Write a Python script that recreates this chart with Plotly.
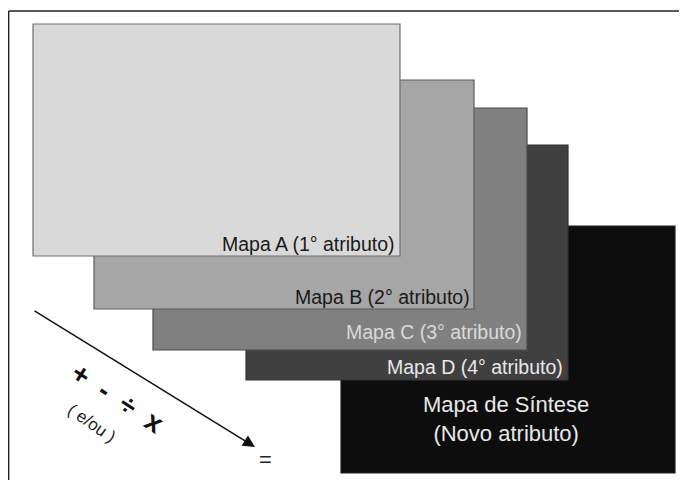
import plotly.graph_objects as go

# Layers of the overlay diagram (pixel-like coordinates in a 687x480 frame)
layer_names = ["Mapa A", "Mapa B", "Mapa C", "Mapa D", "Mapa de Síntese"]
layer_x0 = [33, 94, 153, 246, 341]
layer_x1 = [400, 474, 527, 568, 675]
layer_y0 = [24, 80, 108, 145, 226]
layer_y1 = [256, 309, 350, 380, 473]
layer_fill = ["#d9d9d9", "#a6a6a6", "#808080", "#404040", "#0d0d0d"]
layer_line = ["#6e6e6e", "#5a5a5a", "#4a4a4a", "#333333", "#222222"]

labels = ["Mapa A (1° atributo)", "Mapa B (2° atributo)",
          "Mapa C (3° atributo)", "Mapa D (4° atributo)"]
label_x = [397, 472, 524, 565]
label_y = [244, 297, 332, 367]
label_color = ["#1a1a1a", "#1a1a1a", "#dadada", "#e8e8e8"]

synth_text = "Mapa de Síntese<br>(Novo atributo)"

W, H = 687, 480
OFF = 8  # page body margin compensation
FW, FH = W - OFF, H - OFF
fig = go.Figure()
fig.add_trace(go.Scatter(x=[OFF, OFF + FW], y=[OFF, OFF + FH], mode="markers",
                         marker=dict(opacity=0), hoverinfo="skip", showlegend=False))

# outer frame: only top and left edges are visible in the reference
shapes = [dict(type="line", xref="x", yref="y", x0=8.6, y0=11, x1=W + 40, y1=11,
               line=dict(color="#222222", width=1.6), layer="below"),
          dict(type="line", xref="x", yref="y", x0=8.6, y0=11, x1=8.6, y1=H + 40,
               line=dict(color="#222222", width=1.6), layer="below")]
rects = []
for i in range(len(layer_names)):
    rects.append(dict(type="rect", xref="x", yref="y",
                      x0=layer_x0[i], x1=layer_x1[i], y0=layer_y0[i], y1=layer_y1[i],
                      fillcolor=layer_fill[i], line=dict(color=layer_line[i], width=1.2),
                      layer="below"))
# draw in reverse so that Mapa A is on top
shapes += rects[::-1]

font = "Liberation Sans, Arial, sans-serif"
annotations = []
for i, t in enumerate(labels):
    annotations.append(dict(x=label_x[i], y=label_y[i], xref="x", yref="y", text=t,
                            showarrow=False, xanchor="right", yanchor="middle",
                            font=dict(family=font, size=19.5, color=label_color[i])))
annotations.append(dict(x=506, y=419, xref="x", yref="y", text=synth_text, showarrow=False,
                        xanchor="center", yanchor="middle", align="center",
                        font=dict(family=font, size=22, color="#e8e8e8")))
# arrow
annotations.append(dict(x=255, y=447, ax=33, ay=310, xref="x", yref="y", axref="x", ayref="y",
                        text="", showarrow=True, arrowhead=2, arrowsize=1.6, arrowwidth=1.5,
                        arrowcolor="#111111"))
annotations.append(dict(x=118, y=398, xref="x", yref="y", text="<b>+  -  ÷  x</b>", showarrow=False,
                        textangle=33, font=dict(family=font, size=28, color="#111111")))
annotations.append(dict(x=92, y=423, xref="x", yref="y", text="( e/ou )", showarrow=False,
                        textangle=35, font=dict(family=font, size=17, color="#222222")))
annotations.append(dict(x=265, y=459, xref="x", yref="y", text="=", showarrow=False,
                        font=dict(family=font, size=22, color="#222222")))

fig.update_layout(width=FW, height=FH, margin=dict(l=0, r=0, t=0, b=0),
                  plot_bgcolor="white", paper_bgcolor="white",
                  xaxis=dict(range=[OFF, OFF + FW], visible=False, fixedrange=True),
                  yaxis=dict(range=[OFF + FH, OFF], visible=False, fixedrange=True),
                  shapes=shapes, annotations=annotations, showlegend=False)
fig.write_html("out.html")
